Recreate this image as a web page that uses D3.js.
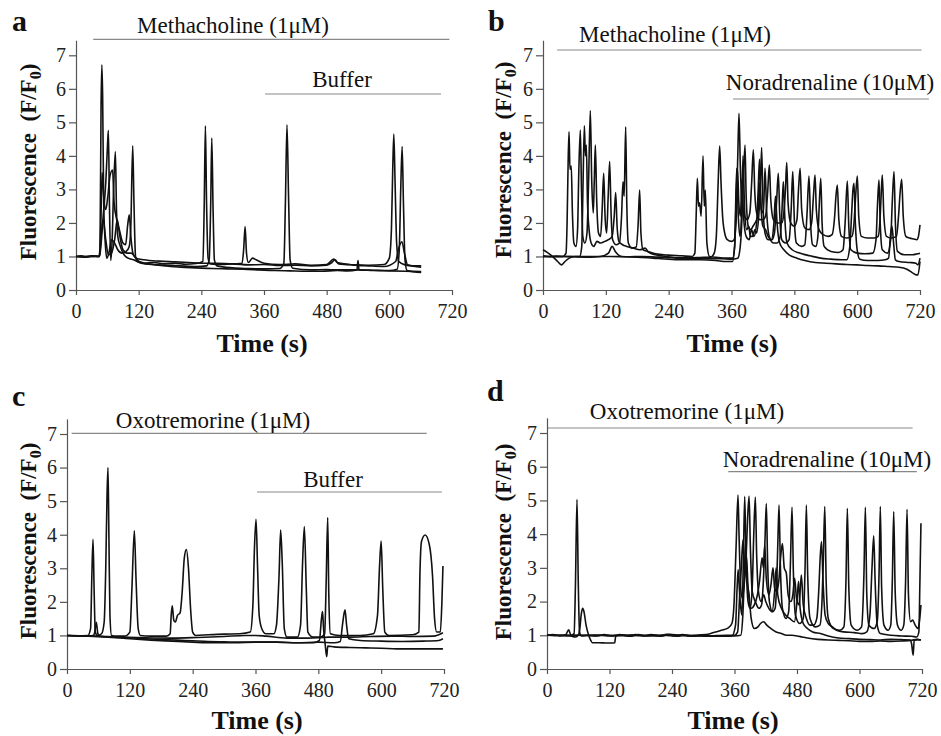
<!DOCTYPE html>
<head>
<meta charset="utf-8">
<style>
    body { margin: 0; background: #fff; }
    text { font-family: "Liberation Serif", "Times New Roman", serif; fill: #111; }
    .trace { fill: none; stroke: #111; stroke-width: 1.6; stroke-linejoin: round; }
    .axis path, .axis line { stroke: #555; stroke-width: 1.2; }
    .axis text { font-size: 20px; fill: #222; }
    .bar { stroke: #888; stroke-width: 1.2; }
    .drug { font-size: 23px; }
    .title { font-size: 23px; font-weight: bold; }
    .xtitle { font-size: 26px; font-weight: bold; }
    .letter { font-size: 30px; font-weight: bold; }
</style>
</head>
<body>
<script src="https://d3js.org/d3.v7.min.js"></script>
<script>

//////////////////////////
////////// DATA //////////
//////////////////////////

// time (s), F/F0
const timeTicks = [0, 120, 240, 360, 480, 600, 720];
const fluoTicks = [0, 1, 2, 3, 4, 5, 6, 7];

// panel a : methacholine then buffer
const A1 = [[0,1.0],[10,1.02],[20,0.98],[30,1.02],[44,1.0],[46,1.3],[48,5.5],[49.5,6.72],[51,5.8],[53,2.6],[56,1.4],[59,0.95],[63,1.1],[68,1.5],[74,1.4],[80,1.2],[88,1.1],[96,1.15],[102,1.3],[105,1.9],[108.6,4.3],[111,2.6],[114,1.0],[118,0.85],[130,0.8],[150,0.82],[170,0.78],[190,0.8],[210,0.77],[230,0.79],[243,0.85],[245.5,2.5],[247.8,4.9],[250,2.6],[253,0.95],[257,0.78],[280,0.76],[300,0.78],[330,0.75],[360,0.76],[390,0.73],[420,0.74],[450,0.72],[480,0.74],[490,0.82],[496,0.9],[503,0.78],[530,0.75],[560,0.74],[590,0.76],[600,0.95],[604,1.8],[606.5,3.6],[608.6,4.65],[611,3.2],[614,1.4],[618,0.85],[630,0.75],[645,0.72],[661,0.72]];
const A2 = [[0,1.0],[15,0.98],[30,1.01],[45,1.0],[47,1.2],[52,2.2],[57,3.2],[60,4.2],[62,4.76],[64,2.6],[66.5,0.88],[69,1.4],[72,3.0],[75.4,4.13],[77.5,2.4],[80,1.6],[85,1.3],[92,1.05],[100,0.95],[110,0.9],[125,0.8],[150,0.76],[175,0.74],[200,0.72],[230,0.7],[250,0.72],[255,0.9],[258,2.6],[260,4.53],[262.5,2.4],[265,0.9],[270,0.72],[300,0.66],[330,0.64],[360,0.63],[390,0.64],[398,0.8],[401,2.6],[404,4.93],[407,2.8],[410,0.9],[415,0.65],[450,0.6],[480,0.61],[500,0.6],[540,0.6],[570,0.58],[600,0.57],[630,0.56],[661,0.55]];
const A3 = [[0,1.0],[20,1.0],[45,1.01],[47,1.6],[50,3.5],[53,2.8],[57,2.4],[61,2.8],[65,3.4],[70,3.58],[73,2.6],[78,2.1],[83,1.8],[90,1.4],[95,1.35],[99,1.94],[102,2.24],[105,1.6],[109,1.1],[115,0.95],[130,0.9],[160,0.86],[190,0.84],[215,0.82],[240,0.8],[270,0.8],[300,0.78],[318,0.8],[321,1.2],[323.8,1.89],[326.5,1.1],[330,0.82],[338,0.95],[345,0.9],[360,0.8],[390,0.76],[420,0.78],[450,0.74],[480,0.76],[493.7,0.92],[500,0.82],[530,0.75],[560,0.72],[590,0.7],[612,0.85],[618,1.25],[624,1.44],[629,1.1],[635,0.75],[661,0.68]];
const A4 = [[0,1.0],[25,1.0],[45,1.0],[48,1.6],[52,2.1],[57,1.5],[62,1.05],[68,1.1],[74,1.5],[79,2.1],[84,1.6],[90,1.2],[98,1.1],[106,1.1],[112,1.0],[120,0.86],[145,0.76],[170,0.72],[200,0.68],[230,0.66],[260,0.64],[290,0.63],[320,0.62],[350,0.6],[380,0.58],[410,0.57],[440,0.56],[470,0.56],[500,0.58],[520,0.57],[538,0.6],[540,0.88],[542,0.6],[570,0.59],[600,0.58],[615,0.62],[619,1.2],[622,3.1],[624.5,4.28],[627,2.6],[630,0.9],[634,0.58],[661,0.52]];

// panel b : methacholine then noradrenaline
const B1 = [[0,1.02],[12,1.0],[25,1.01],[38,1.0],[44,1.1],[46,2.0],[48,3.8],[49.7,4.72],[51.5,3.6],[54,3.7],[56,2.4],[59,1.4],[63,1.3],[66,1.8],[68.5,3.6],[71.3,4.77],[73.5,3.0],[76,1.6],[80,1.4],[84,1.7],[87,3.2],[90.4,5.35],[93,3.3],[96,2.3],[98,3.3],[100,4.32],[102.5,2.7],[106,1.7],[110,1.6],[113,2.4],[115.9,3.48],[118.5,2.2],[121.5,1.7],[124.5,2.8],[127.3,3.83],[130,2.3],[133,1.5],[140,1.35],[146,1.4],[150,2.2],[152.8,3.23],[155,2.8],[157.9,4.87],[160,2.6],[163,1.4],[170,1.25],[178,1.28],[181.5,1.9],[184.6,2.98],[187,1.7],[191,1.2],[200,1.15],[215,1.08],[240,1.04],[265,1.02],[285,1.0],[290,1.1],[292.5,2.2],[294.8,3.33],[297,2.5],[299,2.6],[302,2.2],[305.6,4.0],[308,2.5],[310,2.98],[313,1.4],[318,1.0],[335,0.97],[350,0.95],[362,0.95],[366,1.3],[369.9,3.63],[373,2.2],[376,1.6],[379,2.2],[382,4.0],[385,2.4],[389,1.8],[393,1.9],[396,1.6],[400,1.6],[405,1.8],[408,1.7],[412,2.2],[415,3.0],[417.6,4.25],[420,2.6],[424,1.7],[430,1.5],[437,1.5],[442,1.7],[446,2.6],[449.4,3.48],[452,2.3],[456,1.5],[463,1.4],[470,1.5],[474,2.4],[477,3.53],[480,2.1],[484,1.4],[494,1.3],[500,1.35],[504,2.2],[508,3.4],[511,2.0],[515,1.35],[521,1.3],[525,1.6],[527.5,2.5],[530.5,3.33],[533,2.0],[537,1.3],[550,1.15],[565,1.12],[573,1.2],[577,2.0],[581.2,3.25],[584,1.9],[588,1.2],[600,1.1],[615,1.08],[630,1.1],[636,1.5],[639,2.6],[641.7,3.28],[644,2.0],[648,1.2],[658,1.1],[664,1.5],[667,2.6],[670.4,3.53],[673,2.0],[677,1.15],[690,1.05],[705,1.05],[715,1.08],[720,1.1]];
const B2 = [[0,1.0],[20,0.99],[40,1.0],[60,1.0],[80,1.0],[100,1.0],[130,1.0],[160,0.99],[190,1.0],[220,0.98],[250,0.97],[280,0.96],[300,0.97],[320,0.98],[327,1.1],[331,1.6],[334.5,3.2],[337.4,4.29],[340,3.2],[343,2.2],[347,1.7],[352,1.5],[360,1.45],[365,1.5],[369,2.1],[372,4.0],[374.3,5.27],[377,3.6],[380,2.6],[385,2.2],[390,2.1],[395,2.3],[398.5,3.2],[401.7,4.18],[404.5,2.9],[408,2.3],[414,2.1],[420,2.1],[425,2.2],[429,2.9],[432.3,3.73],[435,2.7],[440,2.1],[448,2.0],[456,2.0],[460,2.3],[463,3.0],[465.5,3.8],[468,2.6],[473,2.0],[480,1.9],[485,2.1],[488,3.0],[491,3.63],[494,2.4],[500,1.85],[508,1.8],[513,2.0],[516.5,2.8],[519.5,3.43],[522,2.4],[527,1.8],[535,1.65],[545,1.6],[552,1.65],[557,2.2],[559.5,2.8],[562.1,3.13],[565,2.1],[570,1.6],[580,1.55],[590,1.6],[594,2.0],[597.5,2.9],[600.3,3.4],[603,2.2],[608,1.6],[620,1.55],[632,1.55],[640,1.6],[644,2.2],[646,2.9],[648,3.43],[651,2.2],[656,1.6],[665,1.55],[675,1.6],[679,2.2],[682,2.9],[685,3.3],[688,2.2],[693,1.6],[700,1.55],[708,1.52],[714,1.5],[717,1.6],[720,1.94]];
const B3 = [[0,1.2],[8,1.12],[18,1.0],[28,0.85],[35,0.75],[42,0.85],[50,0.95],[60,1.0],[70,1.0],[74,1.3],[76.5,3.2],[79,4.9],[81,4.0],[82.8,4.32],[85,2.6],[88,1.8],[92,1.4],[97,1.3],[103,1.45],[110,1.4],[118,1.45],[125,1.5],[132,1.6],[136,2.2],[138.8,2.91],[141.5,1.9],[145,1.45],[152,1.35],[160,1.3],[172,1.25],[185,1.2],[195,1.25],[202,1.12],[215,1.05],[235,1.0],[255,0.95],[280,0.93],[300,0.95],[320,0.93],[340,0.93],[360,0.92],[372,0.95],[376,1.2],[379,1.8],[382,3.0],[385.8,4.32],[388,2.8],[392,1.9],[397,1.8],[401,1.9],[405,2.0],[410,2.2],[414,3.2],[417,2.4],[421,2.3],[424,3.63],[427,2.4],[432,1.6],[440,1.4],[447,1.4],[453,1.6],[456.5,2.4],[459,3.23],[462,2.1],[466,1.4],[476,1.2],[490,1.1],[510,1.02],[530,0.95],[550,0.92],[570,0.9],[580,0.9],[586,1.3],[589.5,2.3],[592,3.0],[594,3.18],[596.5,2.0],[600,1.2],[605,0.92],[620,0.88],[640,0.88],[653,0.9],[660,0.95],[664,1.7],[666.5,1.9],[669,1.5],[673,0.9],[680,0.85],[700,0.82],[712,0.8],[716,0.75],[720,0.95]];
const B4 = [[0,1.0],[20,1.0],[40,1.0],[60,0.99],[90,0.98],[110,1.0],[125,1.1],[132,1.3],[138,1.15],[150,1.0],[180,0.98],[210,0.95],[240,0.92],[270,0.9],[300,0.9],[330,0.88],[350,0.85],[362,0.85],[366,1.3],[369,2.8],[371.5,3.6],[374,2.6],[377,2.2],[380,3.3],[383,2.2],[388,1.6],[394,1.5],[398,1.8],[403,1.6],[408,2.0],[411,3.0],[413.5,3.9],[416,2.6],[420,1.9],[425,1.8],[430,1.6],[436,1.5],[441,2.0],[444,2.8],[447,2.0],[452,1.4],[460,1.2],[470,1.05],[485,0.95],[500,0.88],[520,0.82],[540,0.8],[560,0.78],[580,0.76],[600,0.75],[620,0.73],[640,0.72],[660,0.7],[680,0.68],[695,0.62],[705,0.52],[713,0.45],[716,0.45],[720,0.85]];

// panel c : oxotremorine then buffer
const C1 = [[0,1.0],[20,0.99],[40,1.0],[45,1.2],[47.5,2.8],[49.7,3.86],[52,2.2],[54,1.1],[58,1.0],[66,1.05],[71,1.4],[74,3.0],[76.5,5.2],[78.3,6.0],[80,4.0],[82,1.6],[85,1.0],[95,0.98],[110,0.98],[120,1.1],[124,2.4],[128.6,4.12],[132,2.6],[136,1.2],[140,1.0],[160,0.98],[190,0.98],[197,1.05],[199,1.6],[201,1.88],[204,1.45],[207,1.4],[211,1.6],[216,1.67],[220,2.3],[224,3.3],[228,3.56],[232,3.0],[236,1.8],[240,1.1],[246,1.0],[270,1.02],[300,1.04],[330,1.05],[350,1.1],[355,1.9],[358,3.6],[361,4.46],[364,3.0],[367,1.6],[372,1.2],[380,1.05],[395,1.05],[400,1.3],[405,2.8],[408,4.14],[411,3.2],[415,1.2],[420,0.95],[440,0.95],[446,1.3],[450,3.2],[453.3,4.24],[457,2.4],[460,1.1],[470,0.95],[485,0.95],[492,1.05],[495,2.6],[497.9,4.51],[500,2.2],[503,1.05],[520,1.0],[560,1.0],[585,1.05],[593,1.6],[597,3.1],[600,3.81],[603,2.4],[607,1.1],[615,1.0],[660,1.02],[672,1.1],[674,2.8],[677,3.8],[684,3.99],[692,3.7],[698,2.8],[702,1.5],[706,1.1],[713,1.1],[716,2.0],[718,3.07]];
const C2 = [[0,1.0],[30,0.98],[50,1.0],[53,1.1],[56,1.39],[59,1.05],[65,0.97],[90,0.95],[120,0.93],[150,0.9],[180,0.88],[210,0.86],[240,0.84],[270,0.82],[300,0.81],[330,0.8],[360,0.8],[400,0.8],[440,0.78],[470,0.78],[482,0.85],[486,1.5],[488,1.71],[490,1.2],[493,0.75],[496,0.37],[498,0.68],[510,0.66],[540,0.64],[570,0.63],[600,0.62],[630,0.6],[660,0.6],[690,0.6],[718,0.6]];
const C3 = [[0,1.0],[40,0.98],[80,0.95],[120,0.9],[160,0.86],[200,0.83],[240,0.8],[280,0.78],[320,0.78],[360,0.8],[400,0.8],[440,0.78],[480,0.8],[510,0.78],[522,0.82],[526,1.3],[530.9,1.76],[534,1.3],[538,0.9],[560,0.85],[600,0.83],[640,0.82],[680,0.83],[710,0.85],[718,0.9]];
const C4 = [[0,1.0],[50,0.98],[100,0.95],[150,0.93],[200,0.92],[250,0.94],[300,0.97],[340,1.0],[360,1.0],[380,0.98],[420,0.92],[460,0.92],[480,0.93],[500,0.95],[540,0.95],[580,0.97],[620,0.98],[660,0.97],[700,0.98],[718,1.08]];

// panel d : oxotremorine then noradrenaline
const D1 = [[0,1.0],[12,1.02],[25,0.98],[36,1.02],[41.6,1.16],[46,1.0],[52,1.05],[54.5,2.4],[57.6,5.03],[60,2.6],[62.5,1.1],[66,0.98],[80,1.0],[95,0.98],[110,1.02],[125,0.98],[140,1.02],[155,0.99],[170,1.02],[185,0.98],[200,1.02],[215,0.99],[230,1.03],[245,0.98],[260,1.02],[275,0.99],[290,1.01],[305,1.02],[320,1.08],[335,1.15],[348,1.22],[355,1.35],[359,1.9],[363,3.6],[366.7,5.16],[369,3.8],[372,2.4],[375,2.1],[378,2.4],[382,3.2],[385,4.4],[388,5.13],[390.5,3.6],[394,2.3],[400,2.0],[407,1.8],[412,1.9],[416,2.8],[418.5,3.8],[421.1,4.91],[423.5,3.2],[427,2.0],[433,1.7],[438,1.8],[441.5,2.8],[443.5,3.9],[445.5,4.86],[448,3.1],[452,1.8],[459,1.5],[464,1.7],[467.5,3.2],[470.4,4.8],[473,2.9],[477,1.6],[485,1.35],[492,1.5],[495.5,3.0],[498,4.86],[500.5,2.8],[505,1.5],[515,1.25],[524,1.3],[528,2.0],[530.5,3.2],[533.3,4.82],[536,2.6],[540,1.5],[550,1.2],[562,1.15],[570,1.25],[574,2.6],[576.7,4.77],[579.5,2.4],[584,1.3],[595,1.15],[604,1.25],[608.5,2.8],[611.3,4.8],[614,2.2],[618,1.3],[628,1.2],[634,1.4],[637.5,2.8],[640,4.82],[642.5,2.4],[647,1.3],[655,1.15],[660,1.3],[663,2.6],[665.7,4.67],[668.5,2.3],[673,1.3],[680,1.15],[685,1.3],[688.5,2.6],[691.3,4.74],[694,2.2],[698,1.4],[702,1.45],[707,1.3],[712,1.2],[715,1.4],[718,1.9]];
const D2 = [[0,1.0],[20,1.0],[40,1.0],[55,0.95],[60,1.0],[63,1.2],[66,1.65],[68.5,1.8],[71,1.7],[75,1.3],[80,1.0],[84,0.85],[87,0.78],[100,0.78],[115,0.77],[125,0.77],[130,0.78],[132,0.98],[145,1.0],[160,0.97],[175,1.02],[190,0.98],[205,1.0],[220,0.97],[235,1.03],[250,0.97],[265,1.0],[280,0.97],[295,1.0],[310,0.98],[325,0.99],[345,1.0],[360,1.0],[366,1.1],[370,2.2],[373,3.0],[376.4,3.83],[379,3.0],[383,3.33],[386,2.4],[392,1.8],[398,1.9],[404,2.2],[408,2.6],[413,3.3],[415.5,3.0],[418,3.68],[421,2.7],[426,2.2],[430,2.5],[434,3.0],[437,2.4],[441,2.3],[445,2.6],[448.5,3.3],[452,3.72],[455.5,3.0],[459.5,2.84],[463,2.2],[468,2.0],[472,2.2],[475.5,2.69],[479,2.1],[484,1.9],[488.3,2.79],[492,1.9],[498,1.5],[505,1.3],[512,1.3],[518,1.5],[522,2.4],[524.5,3.3],[527,3.78],[530,2.6],[534,1.6],[540,1.35],[548,1.25],[556,1.15],[570,1.1],[590,1.08],[605,1.05],[614,1.1],[620,1.6],[624,3.0],[627.3,3.95],[630,2.6],[634,1.3],[640,1.05],[660,1.0],[680,0.98],[700,0.97],[710,0.95],[714,1.1],[716,2.6],[718,4.32]];
const D3 = [[0,1.0],[15,0.99],[30,1.0],[45,1.0],[60,1.0],[80,1.0],[100,1.01],[120,0.98],[140,1.0],[160,1.0],[180,0.99],[200,1.0],[220,1.0],[240,0.99],[260,1.0],[280,0.99],[300,0.98],[320,0.97],[340,0.97],[355,0.98],[362,1.3],[365,2.4],[367,2.95],[370,2.2],[374,1.6],[377,3.2],[379.6,5.12],[382,3.4],[386,2.0],[390,1.8],[394,2.4],[397,4.0],[400,5.1],[402.5,3.4],[406,2.3],[411,2.0],[416,2.2],[420,2.0],[426,1.8],[432,1.7],[437,2.3],[440,3.0],[443,2.2],[450,1.8],[458,1.6],[466,1.5],[475,1.4],[480,2.0],[483,2.6],[486,1.8],[492,1.35],[500,1.2],[510,1.1],[525,1.05],[540,0.98],[560,0.92],[580,0.9],[600,0.88],[620,0.87],[640,0.86],[660,0.88],[680,0.87],[697,0.86],[700,0.75],[703,0.41],[705,0.85],[712,0.87],[718,0.86]];
const D4 = [[0,1.0],[20,1.0],[40,0.98],[60,1.0],[90,0.99],[120,1.0],[150,0.99],[180,1.0],[210,0.98],[240,1.02],[270,0.98],[300,0.98],[330,0.98],[360,0.98],[372,1.0],[376,1.6],[379,2.8],[381.5,3.8],[384,2.7],[388,2.2],[392,1.5],[398,1.2],[405,1.25],[410,1.35],[416,1.4],[422,1.3],[430,1.2],[440,1.1],[450,1.05],[460,1.0],[470,1.0],[480,0.98],[490,0.95],[500,0.92],[520,0.88],[540,0.86],[560,0.85],[580,0.84],[600,0.82],[620,0.82],[640,0.83],[660,0.82],[680,0.83],[700,0.85],[710,0.88],[718,0.86]];

// drug application bars: label, [start, end] in s
const drugsA = ['Methacholine (1\u03bcM)', 'Buffer'];
const spansA = [[33, 715], [362, 699]];
const drugsB = ['Methacholine (1\u03bcM)', 'Noradrenaline (10\u03bcM)'];
const spansB = [[27, 723], [363, 737]];
const drugsC = ['Oxotremorine (1\u03bcM)', 'Buffer'];
const spansC = [[9, 687], [363, 716]];
const drugsD = ['Oxotremorine (1\u03bcM)', 'Noradrenaline (10\u03bcM)'];
const spansD = [[0, 702], [348, 710]];

///////////////////////////
////////// SETUP //////////
///////////////////////////

const serif = '"Liberation Serif", "Times New Roman", serif';

const panels = [
    { letter: 'a', traces: [A1, A2, A3, A4], drugs: drugsA, spans: spansA,
      x0: 76, x1: 452, y0: 290, y7: 55.3, letterPos: [12, 31], yTitle: [36, 162], xTitle: [262, 352],
      barY: [39.3, 94], labelX: [233, 342], labelY: [33, 87] },
    { letter: 'b', traces: [B1, B2, B3, B4], drugs: drugsB, spans: spansB,
      x0: 543, x1: 920, y0: 290, y7: 55.3, letterPos: [488, 31], yTitle: [511, 160], xTitle: [732, 352],
      barY: [50, 99], labelX: [675, 830], labelY: [42, 90] },
    { letter: 'c', traces: [C1, C2, C3, C4], drugs: drugsC, spans: spansC,
      x0: 67, x1: 444, y0: 669, y7: 434, letterPos: [12, 406], yTitle: [36, 541], xTitle: [257, 729],
      barY: [433.3, 492], labelX: [213, 333], labelY: [428, 487] },
    { letter: 'd', traces: [D1, D2, D3, D4], drugs: drugsD, spans: spansD,
      x0: 547, x1: 922, y0: 669, y7: 433, letterPos: [487, 401], yTitle: [511, 542], xTitle: [733, 729],
      barY: [428, 471.7], labelX: [687, 827], labelY: [419, 467] }
];

let svg = d3.select('body').append('svg')
    .attr('width', 941)
    .attr('height', 736);

////////////////////////////
////////// PANELS //////////
////////////////////////////

panels.forEach(p => {
    const unit = (p.y0 - p.y7) / 7;
    let x = d3.scaleLinear().domain([0, 720]).range([p.x0, p.x1]);
    let y = d3.scaleLinear().domain([0, 7.45]).range([p.y0, p.y0 - 7.45 * unit]);

    let line = d3.line()
        .x(d => x(d[0]))
        .y(d => y(d[1]))
        .curve(d3.curveMonotoneX);

    let g = svg.append('g');

    // drug bars
    g.selectAll('line.bar').data(p.spans)
        .enter().append('line')
            .attr('class', 'bar')
            .attr('x1', d => x(d[0]))
            .attr('x2', d => x(d[1]))
            .attr('y1', (d, i) => p.barY[i])
            .attr('y2', (d, i) => p.barY[i]);

    g.selectAll('text.drug').data(p.drugs)
        .enter().append('text')
            .attr('class', 'drug')
            .attr('x', (d, i) => p.labelX[i])
            .attr('y', (d, i) => p.labelY[i])
            .attr('text-anchor', 'middle')
            .text(d => d);

    // axes
    g.append('g')
        .attr('class', 'axis')
        .attr('transform', 'translate(0,' + p.y0 + ')')
        .call(d3.axisBottom(x).tickValues(timeTicks).tickSize(5).tickSizeOuter(0).tickPadding(9))
        .attr('font-family', serif)
        .attr('font-size', 20);

    g.append('g')
        .attr('class', 'axis')
        .attr('transform', 'translate(' + p.x0 + ',0)')
        .call(d3.axisLeft(y).tickValues(fluoTicks).tickSize(7).tickSizeOuter(0).tickPadding(3))
        .attr('font-family', serif)
        .attr('font-size', 20);

    // traces
    g.selectAll('path.trace').data(p.traces)
        .enter().append('path')
            .attr('class', 'trace')
            .attr('d', line);

    // titles
    g.append('text')
        .attr('class', 'letter')
        .attr('x', p.letterPos[0])
        .attr('y', p.letterPos[1])
        .text(p.letter);

    g.append('text')
        .attr('class', 'xtitle')
        .attr('x', p.xTitle[0])
        .attr('y', p.xTitle[1])
        .attr('text-anchor', 'middle')
        .text('Time (s)');

    let yt = g.append('text')
        .attr('class', 'title')
        .attr('transform', 'translate(' + p.yTitle[0] + ',' + p.yTitle[1] + ') rotate(-90)')
        .attr('text-anchor', 'middle')
        .style('white-space', 'pre');
    yt.append('tspan').text('Fluorescence  (F/F');
    yt.append('tspan').attr('dy', 5).style('font-size', '16px').text('0');
    yt.append('tspan').attr('dy', -5).text(')');
});

</script>
</body>
